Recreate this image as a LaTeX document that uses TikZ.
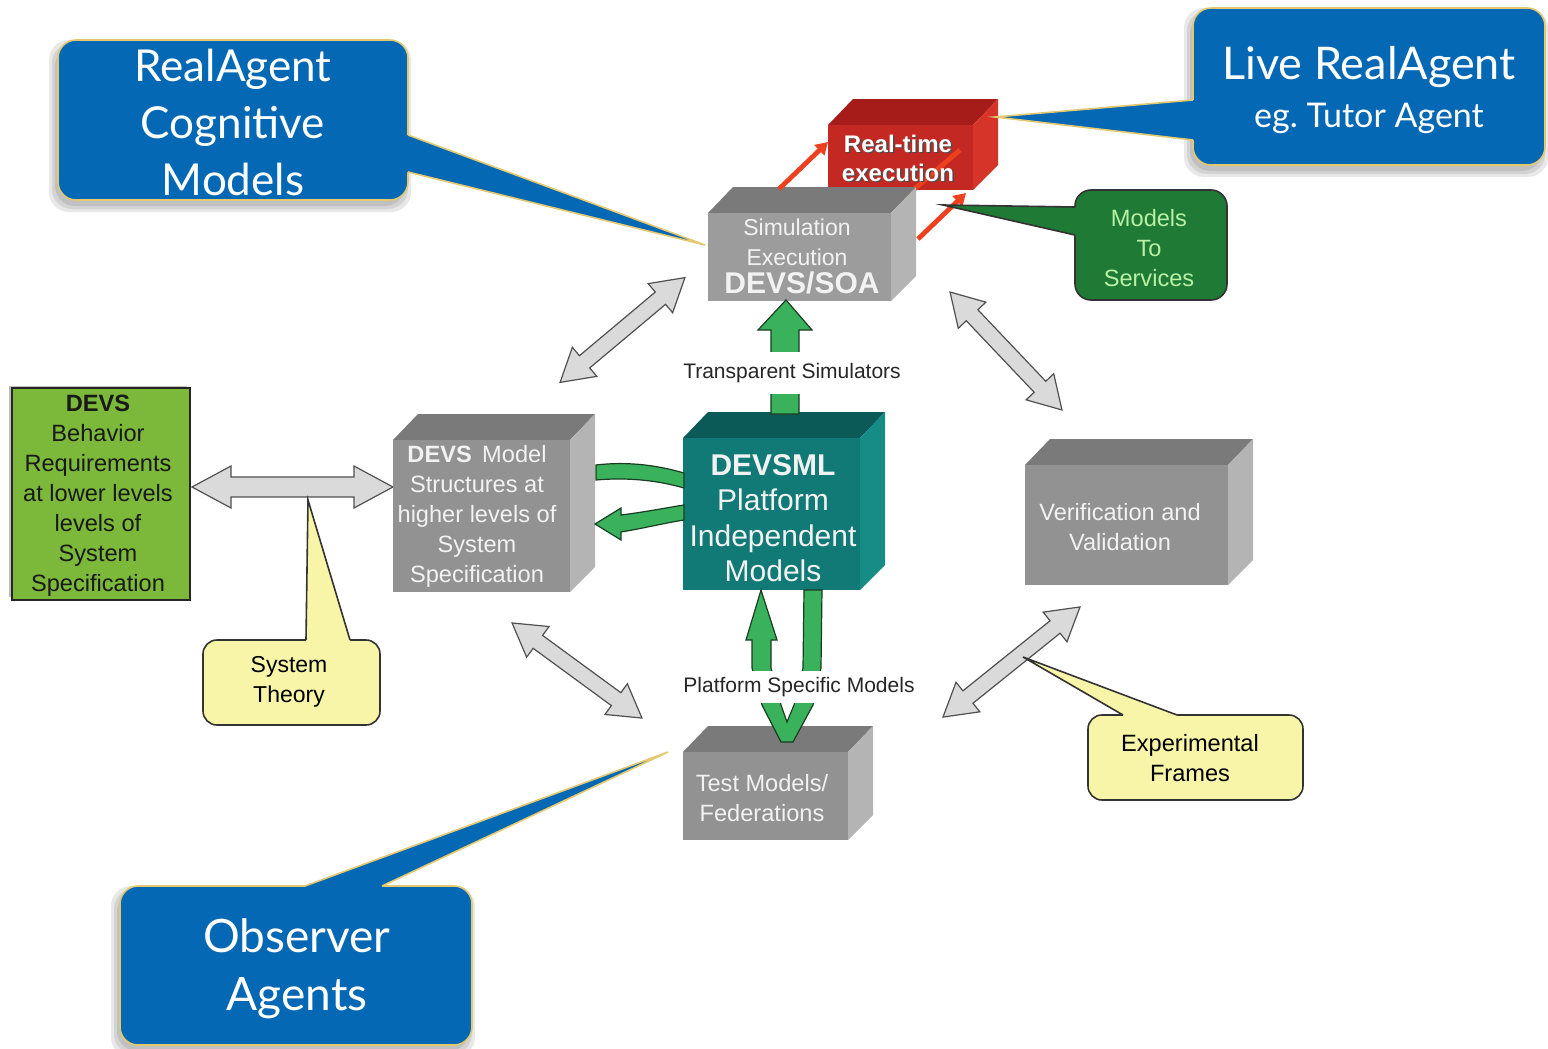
\documentclass[tikz,border=0pt]{standalone}
\usepackage{fontspec}
\setmainfont{Liberation Sans}
\newfontfamily\callfont{Lato}
\usetikzlibrary{calc,fit,arrows.meta}

\definecolor{cblue}{RGB}{5,104,181}
\definecolor{cgold}{RGB}{228,200,110}
\definecolor{redfront}{RGB}{196,40,34}
\definecolor{redtop}{RGB}{165,28,24}
\definecolor{redside}{RGB}{214,52,40}
\definecolor{redarrow}{RGB}{236,64,30}
\definecolor{gfront}{RGB}{156,156,156}
\definecolor{gfrontb}{RGB}{146,146,146}
\definecolor{gtop}{RGB}{122,122,122}
\definecolor{gside}{RGB}{180,180,180}
\definecolor{tfront}{RGB}{18,122,118}
\definecolor{ttop}{RGB}{12,90,88}
\definecolor{tside}{RGB}{22,140,134}
\definecolor{garrowfill}{RGB}{218,218,218}
\definecolor{garrowline}{RGB}{80,80,80}
\definecolor{grn}{RGB}{58,178,92}
\definecolor{grnline}{RGB}{25,60,35}
\definecolor{leafgreen}{RGB}{124,184,58}
\definecolor{lightyellow}{RGB}{248,245,168}
\definecolor{darkgreen}{RGB}{30,122,52}
\definecolor{mintext}{RGB}{185,240,165}
\definecolor{boxtext}{RGB}{242,242,242}

\tikzset{
  bluecall/.style={fill=cblue, draw=cgold, line width=0.8pt, rounded corners=9pt, inner sep=0pt},
  calltext/.style={text=white, align=center, font=\callfont\fontsize{22}{28.5}\selectfont},
  yellowcall/.style={fill=lightyellow, draw=black!80, line width=0.8pt, rounded corners=7pt, inner sep=0pt},
  smalltext/.style={align=center, font=\fontsize{11.8}{15}\selectfont},
  boxlabel/.style={smalltext, text=boxtext},
  gblock/.style={fill=garrowfill, draw=garrowline, line width=0.6pt, line join=miter},
  gnblock/.style={fill=grn, draw=grnline, line width=0.6pt},
  redarr/.style={draw=redarrow, line width=2.4pt, -{Triangle[length=6pt,width=7pt]}},
  midlabel/.style={fill=white, font=\fontsize{10.5}{12}\selectfont, text=black!85, inner xsep=1pt},
  softshadow/.style={fill=black, opacity=0.09, rounded corners=10pt}
}

% name, x1, y1, x2, y2, front, top, side
\newcommand\threedbox[8]{%
  \fill[#7] (#2,#3) -- ({#2+25},{#3-26}) -- ({#4+25},{#3-26}) -- (#4,#3) -- cycle;
  \fill[#8] (#4,#3) -- ({#4+25},{#3-26}) -- ({#4+25},{#5-25}) -- (#4,#5) -- cycle;
  \path (#2,#3) coordinate (#1-nw) (#4,#5) coordinate (#1-se);
  \node[fit=(#1-nw)(#1-se), inner sep=0pt, fill=#6] (#1) {};
}
% cx, cy, halflen, angle, headlen, head half width, shaft half width
\newcommand\garrow[7]{%
  \begin{scope}[shift={(#1,#2)}, rotate=#4]
    \filldraw[gblock] (-#3,0) -- ({-#3+#5},-#6) -- ({-#3+#5},-#7) -- ({#3-#5},-#7) -- ({#3-#5},-#6)
      -- (#3,0) -- ({#3-#5},#6) -- ({#3-#5},#7) -- ({-#3+#5},#7) -- ({-#3+#5},#6) -- cycle;
  \end{scope}}
% soft shadow of a rectangle x1 y1 x2 y2
\newcommand\softrect[4]{%
  \foreach \g in {0,3,6}{%
    \fill[softshadow] ({#1-3-\g},{#2+6-\g}) rectangle ({#3-3+\g},{#4+6+\g});}}

\begin{document}
\begin{tikzpicture}[x=0.5pt,y=-0.5pt]
\useasboundingbox (0,0) rectangle (1548,1049);

% ---------- gray double arrows ----------
\garrow{292.5}{487}{100.5}{0}{39}{21}{10}
\garrow{622.5}{330}{81.5}{40}{32}{19}{8}
\garrow{1006}{351}{81.3}{-46.5}{32}{19}{8}
\garrow{577}{670.5}{80.5}{-36.2}{32}{19}{8}
\garrow{1011.5}{662}{87.9}{38.8}{32}{19}{8}

% ---------- left green box ----------
\fill[black, opacity=0.25] (9,386) rectangle (187,597);
\node[fill=leafgreen, draw=black!85, line width=1pt, minimum width=89pt, minimum height=106pt, inner sep=0pt] (beh) at (101,494) {};
\node[smalltext, text=black!90] (behtext) at (98,496) {\textbf{DEVS}\\Behavior\\Requirements\\at lower levels\\levels of\\System\\Specification};

% ---------- red real-time box ----------
\threedbox{rt}{828}{125}{973}{190}{redfront}{redtop}{redside}
\draw[redarrow, line width=2.4pt] (905,197) -- (960,150);
\node[text=black!70, font=\bfseries\fontsize{12}{14.5}\selectfont, align=center] (rttextsh) at (899.5,159.5) {Real-time\\execution};
\node[text=white, font=\bfseries\fontsize{12}{14.5}\selectfont, align=center] (rttext) at (898,158) {Real-time\\execution};

% ---------- simulation execution box ----------
\threedbox{sim}{708}{213}{891}{301}{gfront}{gtop}{gside}
\node[boxlabel, font=\fontsize{11.5}{15}\selectfont] (simtext) at (797,242) {Simulation\\Execution};
\node[text=boxtext, font=\bfseries\fontsize{15}{17}\selectfont] (simsoa) at (802,283) {DEVS/SOA};

% red arrows
\draw[redarr] (779,189) -- (828,142);
\draw[redarr] (918,239) -- (966,193);

% ---------- other boxes ----------
\threedbox{dm}{393}{440}{570}{592}{gfrontb}{gtop}{gside}
\node[boxlabel] (dmtext) at (477,516.5) {\textbf{DEVS}\, Model\\Structures at\\higher levels of\\System\\Specification};

\threedbox{pim}{683}{438}{860}{590}{tfront}{ttop}{tside}
\node[text=boxtext, align=center, font=\fontsize{15}{17.7}\selectfont] (pimtext) at (773,518) {\textbf{DEVSML}\\Platform\\Independent\\Models};

\threedbox{vv}{1025}{465}{1228}{585}{gfrontb}{gtop}{gside}
\node[boxlabel] (vvtext) at (1120,527) {Verification and\\Validation};

\threedbox{tm}{683}{752}{848}{840}{gfrontb}{gtop}{gside}
\node[boxlabel] (tmtext) at (762,798) {Test Models/\\Federations};

% ---------- green arrows ----------
\filldraw[gnblock] (786,300) -- (812,330) -- (799,330) -- (799,414) -- (771,414) -- (771,330) -- (758,330) -- cycle;
\node[midlabel, inner ysep=5.5pt] (tslabel) at (792,373) {Transparent Simulators};

\filldraw[gnblock] (596,465) .. controls (630,461) and (660,466) .. (684,473) -- (684,488) .. controls (660,481) and (630,477) .. (596,480) -- cycle;
\filldraw[gnblock] (595,524) -- (621,508) -- (621,515) .. controls (645,512) and (665,508) .. (684,505) -- (684,520) .. controls (665,523) and (645,528) .. (621,532) -- (621,540) -- cycle;

\filldraw[gnblock] (761,590) -- (777,640) -- (771,640) -- (771,668) -- (781,705) -- (787,722) -- (794,705) -- (803,668) -- (804,590) -- (822,590) -- (821,668) -- (813,705) -- (793,742) -- (781,742) -- (762,705) -- (752,668) -- (752,640) -- (746,640) -- cycle;
\node[midlabel, inner ysep=3pt] (pslabel) at (799,687) {Platform Specific Models};

% ---------- yellow callouts ----------
\node[yellowcall, minimum width=88.5pt, minimum height=42.5pt] (systh) at (291.5,682.5) {};
\fill[lightyellow] (306,645) -- (306,640) -- (308,500) -- (350,640) -- (350,645) -- cycle;
\draw[black!80, line width=0.8pt] (306,640) -- (308,500) -- (350,640);
\node[smalltext, font=\fontsize{11.5}{15}\selectfont] (systhtext) at (289,682) {System\\Theory};

\node[yellowcall, minimum width=107.5pt, minimum height=42.5pt] (expf) at (1195.5,757.5) {};
\fill[lightyellow] (1123,720) -- (1123,715) -- (1023,657) -- (1177,715) -- (1177,720) -- cycle;
\draw[black!80, line width=0.8pt] (1123,715) -- (1023,657) -- (1177,715);
\node[smalltext] (expftext) at (1190,758) {Experimental\\Frames};

% ---------- models to services ----------
\node[fill=darkgreen, draw=black!80, line width=0.8pt, rounded corners=8pt, minimum width=76pt, minimum height=55pt, inner sep=0pt] (m2s) at (1151,245) {};
\fill[darkgreen] (1080,207) -- (1075,207) -- (943,205) -- (1075,235) -- (1080,235) -- cycle;
\draw[black!80, line width=0.8pt] (1075,207) -- (943,205) -- (1075,235);
\node[smalltext, text=mintext] (m2stext) at (1149,248) {Models\\To\\Services};

% ---------- blue callouts ----------
\softrect{58}{40}{408}{200}
\softrect{1193}{8}{1545}{165}
\softrect{120}{886}{472}{1045}

\node[bluecall, minimum width=175pt, minimum height=80pt] (ragent) at (233,120) {};
\fill[cblue] (402,135) -- (408,135) -- (705,245) -- (408,172) -- (402,172) -- cycle;
\draw[cgold, line width=0.8pt] (408,135) -- (705,245) -- (408,172);
\node[calltext] (ragenttext) at (233,122) {RealAgent\\Cognitive\\Models};

\node[bluecall, minimum width=176pt, minimum height=78.5pt] (live) at (1369,86.5) {};
\fill[cblue] (1199,100) -- (1193,100) -- (995,117) -- (1193,140) -- (1199,140) -- cycle;
\draw[cgold, line width=0.8pt] (1193,100) -- (995,117) -- (1193,140);
\node[text=white, font=\callfont\fontsize{22.5}{26}\selectfont] (livetext) at (1369,67) {Live RealAgent};
\node[text=white, font=\callfont\fontsize{17}{20}\selectfont] (livesub) at (1369,118) {eg.\ Tutor Agent};

\node[bluecall, minimum width=176pt, minimum height=79.5pt] (obs) at (296,965.5) {};
\fill[cblue] (305,892) -- (305,886) -- (668,752) -- (382,886) -- (382,892) -- cycle;
\draw[cgold, line width=0.8pt] (305,886) -- (668,752) -- (382,886);
\node[calltext, font=\callfont\fontsize{23}{29}\selectfont] (obstext) at (297,969) {Observer\\Agents};

\end{tikzpicture}
\end{document}
